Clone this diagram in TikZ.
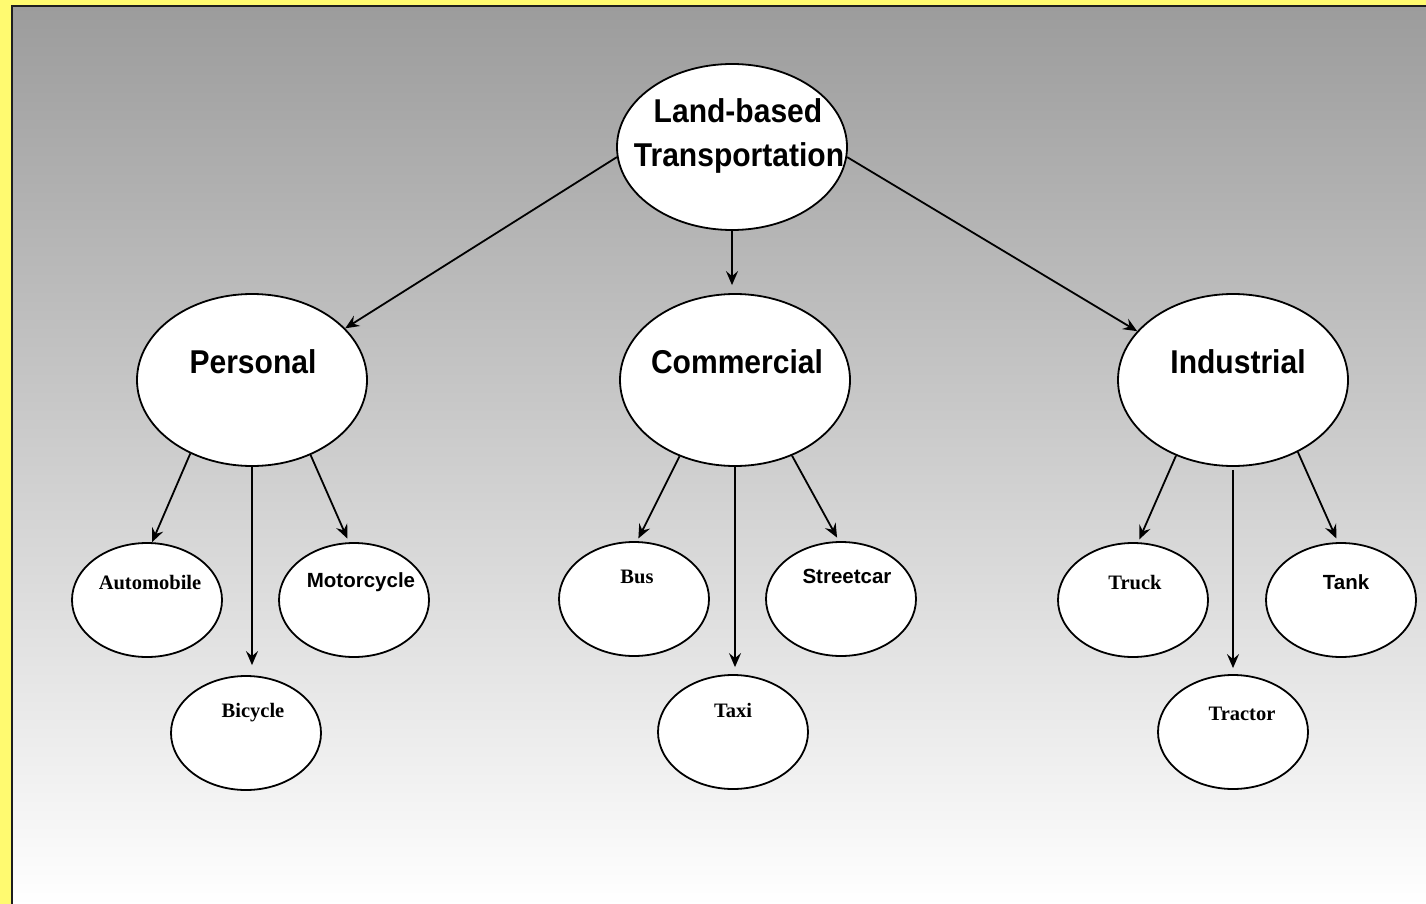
\documentclass[tikz,border=0pt]{standalone}
\usepackage{fontspec}
\usetikzlibrary{shapes.geometric,arrows.meta}
\newfontfamily\bigsans[FakeStretch=0.91]{Liberation Sans}
\newfontfamily\smallsans{Liberation Sans}
\newfontfamily\smallserif{Liberation Serif}
\definecolor{frameyellow}{RGB}{255,250,112}
\definecolor{topgray}{RGB}{156,156,156}
\definecolor{framedark}{RGB}{30,30,30}
\tikzset{
  big/.style={ellipse, draw=black, fill=white, line width=1.8pt, inner sep=0pt,
    minimum width=230pt, minimum height=172pt},
  rootbox/.style={big, minimum height=166pt},
  small/.style={ellipse, draw=black, fill=white, line width=1.8pt, inner sep=0pt,
    minimum width=150pt, minimum height=114pt},
  bigtxt/.style={font=\bigsans\bfseries\fontsize{33}{40}\selectfont, inner sep=0pt, anchor=base},
  sanstxt/.style={font=\smallsans\bfseries\fontsize{20.5}{24}\selectfont, inner sep=0pt, anchor=base},
  seriftxt/.style={font=\smallserif\bfseries\fontsize{20.5}{24}\selectfont, inner sep=0pt, anchor=base},
  conn/.style={line width=1.8pt, -{Stealth[length=14pt,width=12pt,inset=5pt]}}
}
\begin{document}
\begin{tikzpicture}[x=1pt,y=-1pt]
\useasboundingbox (0,0) rectangle (1426,904);
\clip (0,0) rectangle (1426,904);
\fill[frameyellow] (-5,-5) rectangle (1431,909);
\shadedraw[top color=topgray, bottom color=white, draw=framedark, line width=2pt]
  (12,6) rectangle (1440,906);

% root
\node[rootbox] (root) at (732,147) {};
\node[bigtxt] (rootA) at ([shift={(6,-24)}]root.center) {Land-based};
\node[bigtxt] (rootB) at ([shift={(7,20)}]root.center) {Transportation};

% middle level
\node[big] (pers) at (252,380) {};
\node[bigtxt] (persT) at ([shift={(1,-7)}]pers.center) {Personal};
\node[big] (comm) at (735,380) {};
\node[bigtxt] (commT) at ([shift={(2,-7)}]comm.center) {Commercial};
\node[big] (ind) at (1233,380) {};
\node[bigtxt] (indT) at ([shift={(5,-7)}]ind.center) {Industrial};

% leaves: personal
\node[small] (auto) at (147,600) {};
\node[seriftxt] (autoT) at ([shift={(3,-11)}]auto.center) {Automobile};
\node[small] (moto) at (354,600) {};
\node[sanstxt] (motoT) at ([shift={(7,-13)}]moto.center) {Motorcycle};
\node[small] (bicy) at (246,733) {};
\node[seriftxt] (bicyT) at ([shift={(7,-16)}]bicy.center) {Bicycle};

% leaves: commercial
\node[small] (bus) at (634,599) {};
\node[seriftxt] (busT) at ([shift={(3,-16)}]bus.center) {Bus};
\node[small] (street) at (841,599) {};
\node[sanstxt] (streetT) at ([shift={(6,-16)}]street.center) {Streetcar};
\node[small] (taxi) at (733,732) {};
\node[seriftxt] (taxiT) at ([shift={(0,-15)}]taxi.center) {Taxi};

% leaves: industrial
\node[small] (truck) at (1133,600) {};
\node[seriftxt] (truckT) at ([shift={(2,-11)}]truck.center) {Truck};
\node[small] (tank) at (1341,600) {};
\node[sanstxt] (tankT) at ([shift={(5,-11)}]tank.center) {Tank};
\node[small] (tract) at (1233,732) {};
\node[seriftxt] (tractT) at ([shift={(9,-12)}]tract.center) {Tractor};

% connectors
\draw[conn] (root.185) -- (pers.29);
\draw[conn, shorten >=8pt] (root.south) -- (root.south |- comm.north);
\draw[conn] (root.-5) -- (ind.153);

\draw[conn] (pers.-130) -- (auto.85);
\draw[conn, shorten >=10pt] (pers.south) -- (pers.south |- bicy.north);
\draw[conn, shorten >=4pt] (pers.-52) -- (moto.95);

\draw[conn, shorten >=3pt] (comm.-126) -- (bus.87);
\draw[conn, shorten >=7pt] (comm.south) -- (comm.south |- taxi.north);
\draw[conn, shorten >=4pt] (comm.-53) -- (street.92);

\draw[conn, shorten >=3pt] (ind.-127) -- (truck.85);
\draw[conn, shorten >=6pt, shorten <=3pt] (ind.south) -- (ind.south |- tract.north);
\draw[conn, shorten >=4pt] (ind.-48) -- (tank.93);
\end{tikzpicture}
\end{document}
